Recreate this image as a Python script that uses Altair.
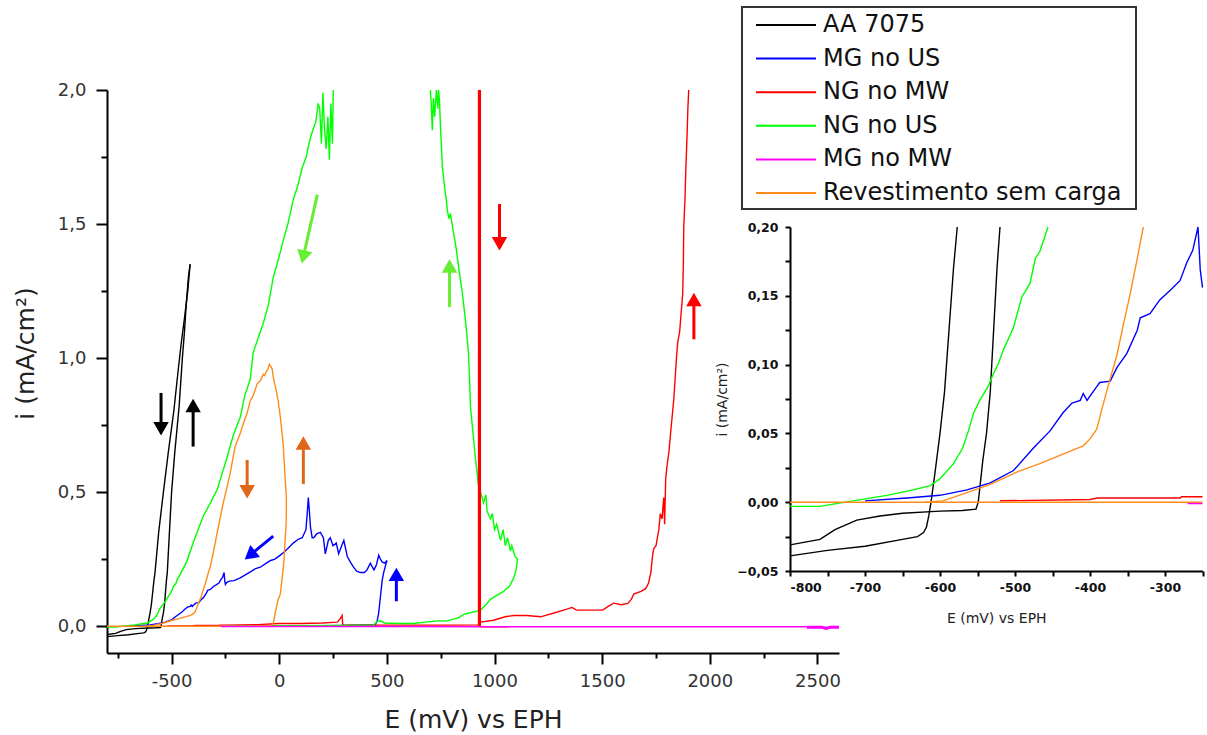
import altair as alt
import pandas as pd

SERIES = ["AA 7075", "MG no US", "NG no MW", "NG no US", "MG no MW", "Revestimento sem carga"]
COLORS = ["#000000", "#0000ff", "#ff0000", "#00ff00", "#ff00ff", "#ff8c1a"]

# ---- traces: (E in mV vs EPH, i in mA/cm2) ----
AA_FWD = [(-800, -0.031), (-760, -0.027), (-740, -0.020), (-711, -0.013), (-680, -0.010), (-650, -0.008),
          (-600, -0.0065), (-570, -0.006), (-552, -0.005), (-549, 0.0), (-546, 0.015), (-543, 0.03),
          (-538, 0.05), (-533, 0.08), (-530, 0.11), (-527, 0.14), (-524, 0.17), (-520, 0.20), (-510, 0.35),
          (-500, 0.50), (-485, 0.65), (-465, 0.82), (-450, 1.00), (-440, 1.10), (-432, 1.20), (-422, 1.30),
          (-414, 1.35)]
AA_REV = [(-414, 1.35), (-425, 1.25), (-440, 1.15), (-456, 1.05), (-470, 0.95), (-490, 0.80), (-515, 0.65),
          (-538, 0.50), (-560, 0.35), (-577, 0.20), (-582, 0.17), (-586, 0.14), (-590, 0.11), (-594, 0.08),
          (-600, 0.05), (-607, 0.02), (-612, 0.0), (-615, -0.01), (-618, -0.018), (-622, -0.022),
          (-630, -0.025), (-650, -0.027), (-700, -0.032), (-750, -0.035), (-800, -0.039)]

MGUS_FWD = [(-240, 0.002), (0, 0.002), (200, 0.002), (300, 0.003), (447, 0.006), (455, 0.02), (462, 0.05),
            (470, 0.11), (478, 0.17), (485, 0.20), (500, 0.245)]
MGUS_REV = [(500, 0.245), (490, 0.235), (478, 0.24), (470, 0.25), (462, 0.265), (452, 0.23), (440, 0.21),
            (423, 0.235), (408, 0.21), (395, 0.20), (377, 0.20), (360, 0.205), (345, 0.22), (330, 0.24),
            (316, 0.26), (300, 0.32), (290, 0.30), (276, 0.27), (265, 0.31), (250, 0.30), (237, 0.33),
            (228, 0.32), (214, 0.27), (205, 0.33), (191, 0.35), (175, 0.345), (160, 0.33), (153, 0.33),
            (145, 0.37), (140, 0.43), (135, 0.48), (130, 0.42), (124, 0.36), (107, 0.33), (90, 0.325),
            (65, 0.31), (40, 0.29), (20, 0.275), (5, 0.265), (-20, 0.25), (-40, 0.245), (-60, 0.235),
            (-88, 0.22), (-110, 0.215), (-140, 0.20), (-181, 0.18), (-210, 0.17), (-230, 0.168),
            (-240, 0.165), (-245, 0.162), (-250, 0.156), (-253, 0.169), (-256, 0.20), (-263, 0.183),
            (-271, 0.174), (-280, 0.161), (-293, 0.154), (-307, 0.147), (-320, 0.137), (-333, 0.134),
            (-337, 0.125), (-351, 0.108), (-364, 0.098), (-373, 0.088), (-387, 0.087), (-391, 0.084),
            (-404, 0.074), (-409, 0.079), (-413, 0.074), (-424, 0.072), (-436, 0.065), (-453, 0.052),
            (-476, 0.039), (-502, 0.023), (-533, 0.014), (-564, 0.009), (-600, 0.005), (-644, 0.003),
            (-700, 0.001)]

NGMW_FWD = [(-520, 0.001), (-400, 0.002), (-390, 0.003), (-280, 0.003), (-278, 0.004), (-250, 0.004),
            (-100, 0.006), (0, 0.010), (100, 0.010), (200, 0.012), (270, 0.015), (285, 0.03), (292, 0.04),
            (295, 0.005), (400, 0.004), (600, 0.004), (800, 0.004), (925, 0.005), (935, 0.015),
            (995, 0.022), (1050, 0.035), (1089, 0.04), (1150, 0.04), (1214, 0.035), (1280, 0.05),
            (1321, 0.06), (1360, 0.07), (1380, 0.06), (1432, 0.06), (1502, 0.06), (1530, 0.075),
            (1553, 0.086), (1590, 0.08), (1619, 0.085), (1635, 0.10), (1647, 0.12), (1680, 0.13),
            (1702, 0.14), (1715, 0.16), (1726, 0.20), (1735, 0.27), (1740, 0.29), (1750, 0.30),
            (1763, 0.36), (1770, 0.42), (1778, 0.40), (1786, 0.48), (1790, 0.38), (1795, 0.55),
            (1800, 0.59), (1810, 0.65), (1819, 0.73), (1833, 0.85), (1845, 1.00), (1851, 1.06),
            (1860, 1.10), (1874, 1.24), (1877, 1.35), (1879, 1.49), (1885, 1.60), (1888, 1.69),
            (1895, 1.85), (1898, 1.93), (1902, 2.00)]
NGMW_TAIL = [(930, -0.002), (1065, -0.002)]
NGMW_DROP = [(930, 2.0), (930, 0.0)]

NGUS_FWD = [(-240, 0.001), (0, 0.002), (300, 0.003), (440, 0.005),
            (455, 0.018), (470, 0.02), (490, 0.012), (550, 0.01), (623, 0.01), (680, 0.015), (735, 0.02),
            (780, 0.02), (828, 0.03), (860, 0.045), (888, 0.05), (935, 0.06), (960, 0.08), (981, 0.10),
            (1010, 0.115), (1042, 0.13), (1070, 0.15), (1089, 0.18), (1100, 0.21), (1107, 0.25),
            (1095, 0.26), (1080, 0.30), (1074, 0.28), (1060, 0.33), (1050, 0.30), (1040, 0.36),
            (1028, 0.32), (1010, 0.38), (1000, 0.36), (990, 0.42), (981, 0.40), (965, 0.43), (960, 0.49),
            (949, 0.46), (935, 0.50), (926, 0.52), (918, 0.58), (912, 0.62), (900, 0.72), (888, 0.82),
            (885, 0.90), (879, 1.02), (870, 1.10), (865, 1.14), (851, 1.24), (840, 1.30), (833, 1.34),
            (820, 1.42), (809, 1.47), (795, 1.54), (788, 1.52), (781, 1.55), (775, 1.60), (772, 1.61),
            (765, 1.66), (758, 1.71), (754, 1.78), (749, 1.86), (745, 1.95), (740, 2.00), (737, 1.93),
            (730, 2.00), (722, 1.90), (716, 1.97), (711, 1.85), (706, 1.95), (702, 2.00)]
NGUS_REV = [(251, 2.0), (247, 1.80), (240, 1.95), (233, 1.74), (226, 1.90), (218, 1.78), (210, 1.86),
            (203, 1.99), (196, 1.80), (188, 1.93), (181, 1.95), (170, 1.88), (160, 1.86), (144, 1.82),
            (125, 1.75), (107, 1.71), (85, 1.64), (65, 1.59), (40, 1.50), (19, 1.44), (0, 1.38),
            (-28, 1.30), (-50, 1.20), (-74, 1.13), (-100, 1.07), (-121, 1.02), (-135, 0.92), (-160, 0.86),
            (-181, 0.78), (-214, 0.71), (-242, 0.63), (-265, 0.57), (-288, 0.51), (-320, 0.46),
            (-353, 0.41), (-400, 0.31), (-430, 0.24), (-456, 0.20), (-467, 0.182), (-473, 0.177),
            (-480, 0.159), (-491, 0.149), (-502, 0.127), (-516, 0.110), (-522, 0.101), (-529, 0.093),
            (-536, 0.084), (-547, 0.074), (-555, 0.065), (-562, 0.052), (-570, 0.039), (-582, 0.028),
            (-600, 0.017), (-613, 0.012), (-636, 0.009), (-671, 0.005), (-716, 0.001), (-760, -0.003),
            (-800, -0.003)]

MGMW_LINE = [(-270, -0.001), (-250, -0.001), (500, -0.001), (1000, -0.002), (1500, -0.002),
             (2000, -0.002), (2450, -0.002)]
MGMW_TAIL = [(2450, -0.004), (2520, -0.004), (2540, -0.008), (2560, -0.004), (2600, -0.004)]

REV_FLAT = [(-800, 0.0), (-250, 0.0), (-33, 0.002)]
REV_LOOP = [(-33, 0.002), (-25, 0.02), (-19, 0.048), (-5, 0.10), (5, 0.12),
            (12, 0.17), (19, 0.22), (24, 0.27), (28, 0.33), (32, 0.38), (33, 0.42), (33, 0.48), (30, 0.52),
            (28, 0.545), (24, 0.60), (19, 0.67), (12, 0.73), (5, 0.78), (-5, 0.84), (-12, 0.87),
            (-20, 0.90), (-28, 0.93), (-33, 0.96), (-40, 0.97), (-46, 0.977), (-52, 0.96), (-60, 0.95),
            (-68, 0.935), (-74, 0.94), (-88, 0.915), (-102, 0.905), (-121, 0.86), (-135, 0.84),
            (-149, 0.795), (-165, 0.76), (-181, 0.72), (-205, 0.67), (-228, 0.57), (-245, 0.51),
            (-260, 0.46), (-275, 0.40), (-288, 0.35), (-305, 0.28), (-321, 0.22), (-329, 0.20),
            (-337, 0.177), (-347, 0.15), (-356, 0.128), (-364, 0.107), (-373, 0.09), (-383, 0.07),
            (-391, 0.053), (-400, 0.046), (-409, 0.041), (-440, 0.034), (-467, 0.028), (-497, 0.022),
            (-533, 0.013), (-564, 0.007), (-596, 0.001), (-620, 0.0)]

# arrows: tail E, tail i, head E, head i, head angle (deg), colour
ARROWS = [(-549, 0.87, -549, 0.745, 180, "#000000"),
          (-400, 0.67, -400, 0.815, 0, "#000000"),
          (-149, 0.62, -149, 0.51, 180, "#e0661a"),
          (112, 0.53, 112, 0.675, 0, "#e0661a"),
          (-28, 0.336, -128, 0.27, 231, "#0000ff"),
          (544, 0.093, 544, 0.185, 0, "#0000ff"),
          (177, 1.61, 114, 1.385, 193, "#66ee33"),
          (791, 1.19, 791, 1.335, 0, "#66ee33"),
          (1023, 1.575, 1023, 1.435, 180, "#ff0000"),
          (1926, 1.07, 1926, 1.21, 0, "#ff0000")]


def rows(series, seg, pts):
    return [{"series": series, "seg": seg, "k": k, "E": e, "I": i} for k, (e, i) in enumerate(pts)]


thin = pd.DataFrame(
    rows(SERIES[0], "aa_f", AA_FWD) + rows(SERIES[0], "aa_r", AA_REV)
    + rows(SERIES[1], "mg_f", MGUS_FWD) + rows(SERIES[1], "mg_r", MGUS_REV)
    + rows(SERIES[2], "ng_f", NGMW_FWD) + rows(SERIES[2], "ng_t", NGMW_TAIL)
    + rows(SERIES[3], "nu_f", NGUS_FWD) + rows(SERIES[3], "nu_r", NGUS_REV)
    + rows(SERIES[5], "rv_f", REV_FLAT) + rows(SERIES[5], "rv_l", REV_LOOP)
    + rows(SERIES[4], "mw", MGMW_LINE)
)
thick = pd.DataFrame(rows(SERIES[2], "ng_d", NGMW_DROP) + rows(SERIES[4], "mw_t", MGMW_TAIL))
arrows = pd.DataFrame(ARROWS, columns=["E0", "I0", "E1", "I1", "ang", "col"])

color_scale = alt.Scale(domain=SERIES, range=COLORS)

# ---------------- main chart ----------------
X_MAIN = alt.Scale(domain=[-800, 2600], nice=False, zero=False)
Y_MAIN = alt.Scale(domain=[-0.1, 2.0], nice=False, zero=False)
X_TITLE = "E (mV) vs EPH"
Y_TITLE = "i (mA/cm²)"

x_axis_main = alt.Axis(
    orient="bottom", values=list(range(-750, 2501, 250)),
    labelExpr="datum.value % 500 === 0 ? '' + datum.value : ''",
    tickSize={"condition": {"test": "datum.value % 500 === 0", "value": 11}, "value": 5},
    grid=False, domainColor="black", domainWidth=2, tickColor="black", tickWidth=2,
    labelFont="DejaVu Sans", labelFontSize=18, labelColor="#333", labelPadding=8,
    titleFont="DejaVu Sans", titleFontSize=25, titleFontWeight="normal", titleColor="#222",
    titlePadding=17,
)
y_axis_main = alt.Axis(
    orient="left", values=[v / 4 for v in range(0, 9)],
    labelExpr="round(datum.value * 4) % 2 === 0 ? replace(format(datum.value, '.1f'), '.', ',') : ''",
    tickSize={"condition": {"test": "round(datum.value * 4) % 2 === 0", "value": 11}, "value": 6},
    grid=False, domainColor="black", domainWidth=2, tickColor="black", tickWidth=2,
    labelFont="DejaVu Sans", labelFontSize=18, labelColor="#333", labelPadding=10,
    titleFont="DejaVu Sans", titleFontSize=25, titleFontWeight="normal", titleColor="#222",
    titlePadding=19, titleY=263,
)


def mx(field):
    return alt.X(field, scale=X_MAIN, axis=x_axis_main, title=X_TITLE)


def my(field):
    return alt.Y(field, scale=Y_MAIN, axis=y_axis_main, title=Y_TITLE)


main_lines = alt.Chart(thin).mark_line(strokeWidth=1.4, clip=True).encode(
    x=mx("E:Q"), y=my("I:Q"),
    color=alt.Color("series:N", scale=color_scale, legend=None),
    detail="seg:N",
    order="k:Q",
)
main_thick = alt.Chart(thick).mark_line(strokeWidth=3.2, clip=True).encode(
    x=mx("E:Q"), y=my("I:Q"),
    color=alt.Color("series:N", scale=color_scale, legend=None),
    detail="seg:N",
    order="k:Q",
)
shafts = alt.Chart(arrows).mark_rule(strokeWidth=3).encode(
    x=mx("E0:Q"), x2="E1:Q",
    y=my("I0:Q"), y2="I1:Q",
    color=alt.Color("col:N", scale=None),
)
heads = alt.Chart(arrows).mark_point(shape="triangle", filled=True, size=240, opacity=1).encode(
    x=mx("E1:Q"), y=my("I1:Q"),
    angle=alt.Angle("ang:Q", scale=None),
    color=alt.Color("col:N", scale=None),
)
main = alt.layer(main_lines, main_thick, shafts, heads).resolve_scale(color="independent")

# ---------------- inset (zoom of the same data) ----------------
X_IN = alt.Scale(domain=[-800, -250], range=[683, 1095.5], nice=False, zero=False)
Y_IN = alt.Scale(domain=[-0.05, 0.2], range=[481, 137], nice=False, zero=False)

x_axis_in = alt.Axis(
    orient="bottom", offset=-82, values=list(range(-800, -249, 50)),
    labelExpr="datum.value % 100 === 0 ? '' + datum.value : ''",
    tickSize=5, grid=False, domainColor="black", domainWidth=2, tickColor="black", tickWidth=2,
    labelFont="DejaVu Sans", labelFontSize=12.5, labelFontWeight="bold", labelColor="#111",
    labelPadding=5, titleFont="DejaVu Sans", titleFontSize=14, titleFontWeight="normal",
    titleColor="#222", titlePadding=18,
)
y_axis_in = alt.Axis(
    orient="left", offset=-683, values=[v / 40 for v in range(-2, 9)],
    labelExpr="round(datum.value * 40) % 2 === 0 ? replace(format(datum.value, '.2f'), '.', ',') : ''",
    tickSize=5, grid=False, domainColor="black", domainWidth=2, tickColor="black", tickWidth=2,
    labelFont="DejaVu Sans", labelFontSize=12.5, labelFontWeight="bold", labelColor="#111",
    labelPadding=7, titleFont="DejaVu Sans", titleFontSize=14, titleFontWeight="normal",
    titleColor="#222", titlePadding=7,
)
inset = alt.Chart(thin).transform_filter(
    "datum.E >= -800 && datum.E <= -250 && datum.I >= -0.05 && datum.I <= 0.2"
).mark_line(strokeWidth=1.4).encode(
    x=alt.X("E:Q", scale=X_IN, axis=x_axis_in, title=X_TITLE),
    y=alt.Y("I:Q", scale=Y_IN, axis=y_axis_in, title=Y_TITLE),
    color=alt.Color("series:N", scale=color_scale, legend=None),
    detail="seg:N",
    order="k:Q",
)

# ---------------- legend box ----------------
legend_df = pd.DataFrame({"series": SERIES})
leg_y = alt.Y("series:N", scale=alt.Scale(type="point", domain=SERIES, range=[-65, 103], padding=0), axis=None)
box = alt.Chart(pd.DataFrame({"n": [0]})).mark_rect(fill="white", stroke="#333", strokeWidth=2).encode(
    x=alt.value(635), x2=alt.value(1029), y=alt.value(-83), y2=alt.value(119)
)
leg_rules = alt.Chart(legend_df).mark_rule(strokeWidth=2).encode(
    x=alt.value(649), x2=alt.value(709), y=leg_y,
    color=alt.Color("series:N", scale=color_scale, legend=None),
)
leg_text = alt.Chart(legend_df).mark_text(
    align="left", baseline="middle", font="DejaVu Sans", fontSize=24, color="#111"
).encode(x=alt.value(716), y=leg_y, text="series:N")
legend = alt.layer(box, leg_rules, leg_text)

chart = alt.layer(main, inset, legend).resolve_scale(
    x="independent", y="independent", color="independent"
).properties(
    width=732, height=563,
    padding={"left": 107, "top": 90, "right": 368, "bottom": 82},
    autosize=alt.AutoSizeParams(type="none"),
).configure_view(strokeWidth=0)

chart.save("out.html", embed_options={"renderer": "svg", "actions": False})
